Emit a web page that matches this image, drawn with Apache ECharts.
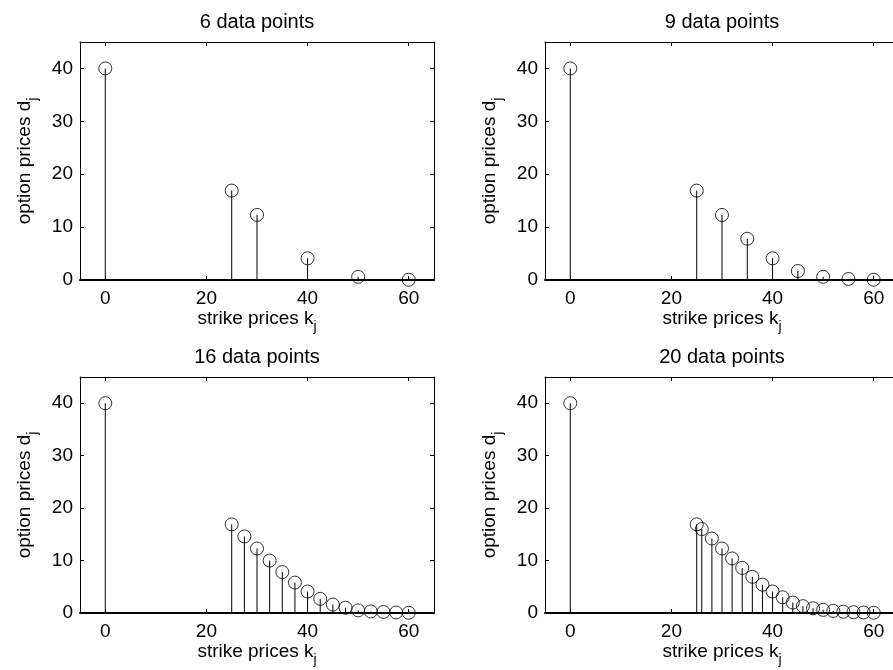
<!DOCTYPE html>
<html>
<head>
<meta charset="utf-8">
<title>option prices vs strike prices</title>
<script src="https://cdn.jsdelivr.net/npm/echarts@6/dist/echarts.min.js"></script>
<style>
html, body { margin: 0; padding: 0; background: #fff; }
#main { width: 893px; height: 670px; }
</style>
</head>
<body>
<div id="main"></div>
<script>
// strike prices k_j / option prices d_j, one pair per panel
var k6 = [0, 25, 30, 40, 50, 60]
var d6 = [40, 16.9, 12.3, 4.1, 0.6, 0.05]

var k9 = [0, 25, 30, 35, 40, 45, 50, 55, 60]
var d9 = [40, 16.9, 12.3, 7.8, 4.1, 1.7, 0.6, 0.2, 0.05]

var k16 = [0, 25, 27.5, 30, 32.5, 35, 37.5, 40, 42.5, 45, 47.5, 50, 52.5, 55, 57.5, 60]
var d16 = [40, 16.9, 14.6, 12.3, 10.0, 7.8, 5.8, 4.1, 2.7, 1.6, 1.0, 0.5, 0.3, 0.2, 0.1, 0.05]

var k20 = [0, 25, 26, 28, 30, 32, 34, 36, 38, 40, 42, 44, 46, 48, 50, 52, 54, 56, 58, 60]
var d20 = [40, 16.9, 16.0, 14.2, 12.3, 10.4, 8.6, 6.9, 5.4, 4.1, 3.0, 2.0, 1.3, 0.9, 0.6, 0.4, 0.25, 0.15, 0.1, 0.05]

var titles = ['6 data points', '9 data points', '16 data points', '20 data points']
var xTicks = [0, 20, 40, 60]
var yTicks = [0, 10, 20, 30, 40]

var font = 'Liberation Sans'
var fs = 19

function pairs (k, d) {
  return k.map(function (x, i) { return [x, d[i]] })
}

var panels = [pairs(k6, d6), pairs(k9, d9), pairs(k16, d16), pairs(k20, d20)]

// axes boxes (the right column is cut off by the picture edge)
var boxes = [
  { left: 80, top: 42, width: 354, height: 238 },
  { left: 545, top: 42, width: 354, height: 238 },
  { left: 80, top: 377, width: 354, height: 236 },
  { left: 545, top: 377, width: 354, height: 236 }
]

var subStyle = { fontSize: 14, fontFamily: font, color: '#000', padding: [17, 0, 0, 0] }

var grid = []
var title = []
var xAxis = []
var yAxis = []
var series = []

boxes.forEach(function (b, i) {
  grid.push({ left: b.left, top: b.top, width: b.width, height: b.height, outerBoundsMode: 'none' })
  title.push({
    text: titles[i],
    left: b.left + b.width / 2,
    top: b.top - 30,
    padding: 0,
    textAlign: 'center',
    textStyle: { fontSize: 20, fontFamily: font, fontWeight: 'normal', color: '#000' }
  })
  // bottom x axis with labels
  xAxis.push({
    gridIndex: i,
    type: 'value',
    position: 'bottom',
    min: -5,
    max: 65,
    splitLine: { show: false },
    axisLine: { onZero: false, lineStyle: { color: '#000', width: 2 } },
    axisTick: { inside: true, length: 4, customValues: xTicks, lineStyle: { color: '#000' } },
    axisLabel: { customValues: xTicks, margin: 9, fontSize: fs, fontFamily: font, color: '#000' },
    name: 'strike prices k{sub|j}',
    nameLocation: 'middle',
    nameGap: 18,
    nameTextStyle: { fontSize: fs, fontFamily: font, color: '#000', rich: { sub: subStyle } }
  })
  // top x axis, just the box edge and ticks
  xAxis.push({
    gridIndex: i,
    type: 'value',
    position: 'top',
    min: -5,
    max: 65,
    splitLine: { show: false },
    axisLine: { onZero: false, lineStyle: { color: '#000', width: 1 } },
    axisTick: { inside: true, length: 4, customValues: xTicks, lineStyle: { color: '#000' } },
    axisLabel: { show: false }
  })
  yAxis.push({
    gridIndex: i,
    type: 'value',
    position: 'left',
    min: 0,
    max: 45,
    splitLine: { show: false },
    axisLine: { onZero: false, lineStyle: { color: '#000', width: 1 } },
    axisTick: { inside: true, length: 4, customValues: yTicks, lineStyle: { color: '#000' } },
    axisLabel: { customValues: yTicks, margin: 7, fontSize: fs, fontFamily: font, color: '#000' },
    name: 'option prices d{sub|j}',
    nameLocation: 'middle',
    nameGap: 40,
    nameTextStyle: { fontSize: fs, fontFamily: font, color: '#000', rich: { sub: subStyle } }
  })
  yAxis.push({
    gridIndex: i,
    type: 'value',
    position: 'right',
    min: 0,
    max: 45,
    splitLine: { show: false },
    axisLine: { onZero: false, lineStyle: { color: '#000', width: 1 } },
    axisTick: { inside: true, length: 4, customValues: yTicks, lineStyle: { color: '#000' } },
    axisLabel: { show: false }
  })
  // stems
  series.push({
    type: 'bar',
    xAxisIndex: i * 2,
    yAxisIndex: i * 2,
    barWidth: 1,
    itemStyle: { color: '#000' },
    silent: true,
    data: panels[i]
  })
  // open circle markers
  series.push({
    type: 'scatter',
    xAxisIndex: i * 2,
    yAxisIndex: i * 2,
    symbol: 'circle',
    symbolSize: 13,
    itemStyle: { color: 'rgba(0,0,0,0)', borderColor: '#000', borderWidth: 1 },
    silent: true,
    z: 3,
    data: panels[i]
  })
})

var chart = echarts.init(document.getElementById('main'))
chart.setOption({
  animation: false,
  backgroundColor: '#fff',
  title: title,
  grid: grid,
  xAxis: xAxis,
  yAxis: yAxis,
  series: series
})
</script>
</body>
</html>
